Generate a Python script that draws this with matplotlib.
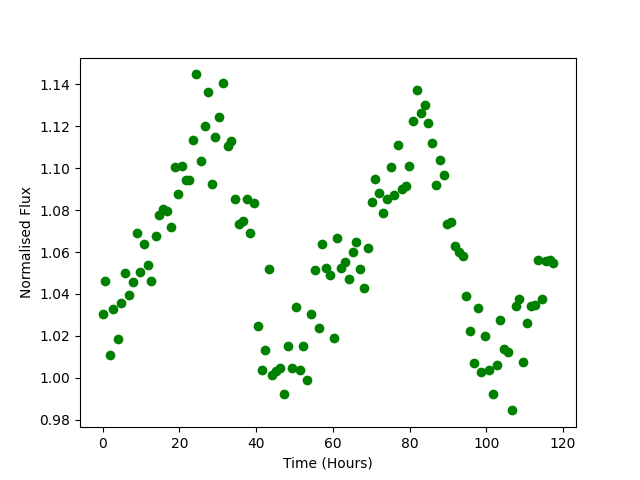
import matplotlib
matplotlib.use('Agg')
import matplotlib.pyplot as plt

# time of each sample (hours)
time_hours = [0.00, 0.70, 1.83, 2.79, 3.91, 4.70, 5.74, 6.78, 7.83, 8.87,
              9.65, 10.70, 11.74, 12.71, 13.83, 14.61, 15.65, 16.80, 17.74, 18.78,
              19.57, 20.71, 21.65, 22.62, 23.48, 24.45, 25.57, 26.61, 27.58, 28.44,
              29.40, 30.26, 31.49, 32.61, 33.50, 34.44, 35.48, 36.53, 37.57, 38.35,
              39.39, 40.44, 41.48, 42.26, 43.31, 44.27, 45.24, 46.36, 47.33, 48.27,
              49.31, 50.35, 51.40, 52.18, 53.22, 54.27, 55.31, 56.35, 57.24, 58.18,
              59.22, 60.27, 61.05, 62.01, 63.06, 64.18, 65.22, 66.01, 66.97, 68.01,
              69.14, 70.18, 70.88, 71.93, 72.97, 74.01, 75.06, 75.92, 76.96, 77.93,
              78.97, 79.83, 80.88, 81.92, 82.96, 84.01, 84.79, 85.83, 86.88, 87.92,
              88.96, 89.75, 90.71, 91.83, 92.88, 93.92, 94.62, 95.67, 96.71, 97.84,
              98.62, 99.66, 100.70, 101.67, 102.79, 103.57, 104.54, 105.66, 106.63, 107.75,
              108.53, 109.58, 110.62, 111.58, 112.71, 113.41, 114.53, 115.58, 116.54, 117.50]

# normalised flux
flux = [1.0306, 1.0461, 1.0107, 1.0327, 1.0187, 1.0356, 1.0499, 1.0397, 1.0456, 1.0693,
        1.0504, 1.0637, 1.0536, 1.0461, 1.0676, 1.0775, 1.0805, 1.0794, 1.0719, 1.1004,
        1.0875, 1.1009, 1.0942, 1.0942, 1.1133, 1.1448, 1.1033, 1.1200, 1.1362, 1.0927,
        1.1147, 1.1247, 1.1405, 1.1106, 1.1130, 1.0851, 1.0732, 1.0746, 1.0851, 1.0689,
        1.0832, 1.0249, 1.0039, 1.0134, 1.0517, 1.0015, 1.0031, 1.0046, 0.9924, 1.0150,
        1.0045, 1.0336, 1.0035, 1.0153, 0.9991, 1.0306, 1.0513, 1.0236, 1.0636, 1.0526,
        1.0488, 1.0188, 1.0665, 1.0526, 1.0551, 1.0470, 1.0598, 1.0650, 1.0521, 1.0426,
        1.0620, 1.0841, 1.0947, 1.0884, 1.0784, 1.0851, 1.1004, 1.0870, 1.1109, 1.0899,
        1.0913, 1.1009, 1.1224, 1.1372, 1.1262, 1.1302, 1.1214, 1.1119, 1.0918, 1.1039,
        1.0966, 1.0732, 1.0741, 1.0628, 1.0599, 1.0579, 1.0388, 1.0222, 1.0069, 1.0335,
        1.0025, 1.0197, 1.0039, 0.9924, 1.0063, 1.0274, 1.0139, 1.0123, 0.9844, 1.0340,
        1.0375, 1.0077, 1.0259, 1.0343, 1.0349, 1.0564, 1.0375, 1.0556, 1.0561, 1.0550]

fig, ax = plt.subplots(figsize=(6.4, 4.8), dpi=100)
ax.scatter(time_hours, flux, color='green')
ax.set_xlabel('Time (Hours)')
ax.set_ylabel('Normalised Flux')

plt.savefig('out.png')
